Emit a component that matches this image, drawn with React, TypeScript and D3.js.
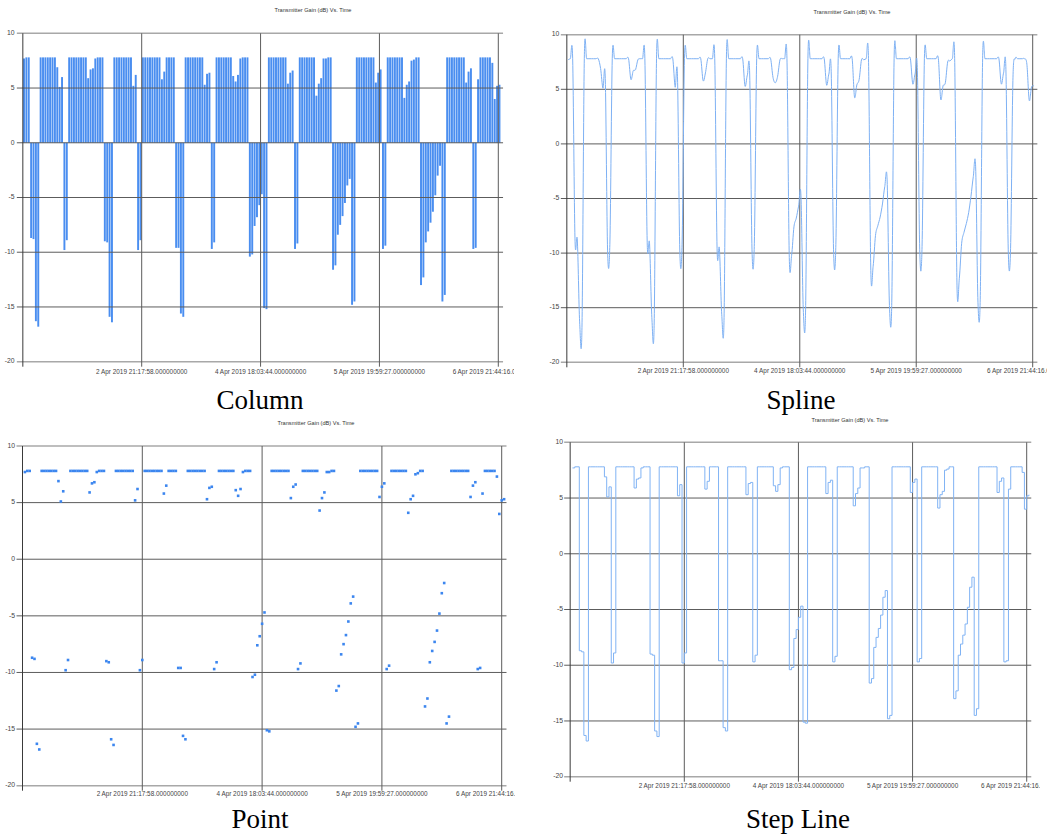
import React from "react";
import * as d3 from "d3";

// Transmitter gain (dB), one value per sample
const gain: number[] = [
  7.7, 7.8, 7.8,
  -8.7, -8.8, -16.3, -16.8,
  7.8, 7.8, 7.8, 7.8, 7.8, 7.8, 7.8, 6.9, 5.1, 6.0,
  -9.8, -8.9,
  7.8, 7.8, 7.8, 7.8, 7.8, 7.8, 7.8, 7.8, 5.9, 6.7, 6.8, 7.7, 7.8, 7.8, 7.8,
  -9.0, -9.1, -15.9, -16.4,
  7.8, 7.8, 7.8, 7.8, 7.8, 7.8, 7.8, 7.8, 5.2, 6.2,
  -9.8, -8.9,
  7.8, 7.8, 7.8, 7.8, 7.8, 7.8, 7.8, 7.8, 5.8, 6.5, 7.8, 7.8, 7.8, 7.8,
  -9.6, -9.6, -15.6, -15.9,
  7.8, 7.8, 7.8, 7.8, 7.8, 7.8, 7.8, 7.8, 5.3, 6.3, 6.4,
  -9.7, -9.1,
  7.8, 7.8, 7.8, 7.8, 7.8, 7.8, 7.8, 6.1, 5.6, 6.2, 7.7, 7.8, 7.8, 7.8,
  -10.4, -10.2, -7.6, -6.8, -5.7, -4.7, -15.1, -15.2,
  7.8, 7.8, 7.8, 7.8, 7.8, 7.8, 7.8, 7.8, 5.4, 6.4, 6.6,
  -9.7, -9.2,
  7.8, 7.8, 7.8, 7.8, 7.8, 7.8, 7.8, 4.3, 5.4, 5.9, 7.7, 7.7, 7.8, 7.8,
  -11.6, -11.2, -8.4, -7.5, -6.7, -5.5, -3.9, -3.3, -14.8, -14.5,
  7.8, 7.8, 7.8, 7.8, 7.8, 7.8, 7.8, 7.8, 5.5, 6.4, 6.7,
  -9.7, -9.4,
  7.8, 7.8, 7.8, 7.8, 7.8, 7.8, 7.8, 4.1, 5.3, 5.6, 7.5, 7.6, 7.8, 7.8,
  -13.0, -12.3, -9.1, -8.1, -7.3, -6.3, -4.8, -3.0, -2.1, -14.5, -13.9,
  7.8, 7.8, 7.8, 7.8, 7.8, 7.8, 7.8, 7.8, 5.5, 6.5, 6.8,
  -9.7, -9.6,
  5.8, 7.8, 7.8, 7.8, 7.8, 7.8, 7.3, 4.0, 5.2, 5.3,
];

const yTicks: number[] = [10, 5, 0, -5, -10, -15, -20];
const xLabelIndex: number[] = [50, 100, 150, 200];
const xLabels: string[] = [
  "2 Apr 2019 21:17:58.000000000",
  "4 Apr 2019 18:03:44.000000000",
  "5 Apr 2019 19:59:27.000000000",
  "6 Apr 2019 21:44:16.000000000",
];
const chartTitle = "Transmitter Gain (dB) Vs. Time";

type Kind = "column" | "spline" | "point" | "step";

interface PanelCfg {
  id: string;
  kind: Kind;
  caption: string;
  g1: number; // x of gridline at first label
  g4: number; // x of gridline at last label
  top: number;
  bottom: number;
  labelRight: number;
  titleX: number;
  titleY: number;
  xLabelY: number;
  clipLeft: number;
  clipRight: number;
  capX: number;
  capY: number;
}

const panels: PanelCfg[] = [
  { id: "p1", kind: "column", caption: "Column", g1: 141.7, g4: 498.3, top: 33.3, bottom: 361.7, labelRight: 14.5, titleX: 313, titleY: 11, xLabelY: 372, clipLeft: 0, clipRight: 514, capX: 260, capY: 409 },
  { id: "p2", kind: "spline", caption: "Spline", g1: 683.3, g4: 1032.7, top: 34.7, bottom: 362.3, labelRight: 559.3, titleX: 852, titleY: 12.7, xLabelY: 371.5, clipLeft: 530, clipRight: 1047, capX: 801, capY: 409 },
  { id: "p3", kind: "point", caption: "Point", g1: 142.3, g4: 501.7, top: 446, bottom: 785.7, labelRight: 15, titleX: 316, titleY: 424, xLabelY: 794.5, clipLeft: 0, clipRight: 515, capX: 260, capY: 827.5 },
  { id: "p4", kind: "step", caption: "Step Line", g1: 684.3, g4: 1026.7, top: 442.3, bottom: 776.7, labelRight: 563, titleX: 850, titleY: 421, xLabelY: 786, clipLeft: 530, clipRight: 1040, capX: 798, capY: 827.5 },
];

const SANS = "'Liberation Sans', Arial, sans-serif";
const SERIF = "'Liberation Serif', 'Times New Roman', serif";

function Panel({ cfg }: { cfg: PanelCfg }) {
  const N = gain.length;
  const p = (cfg.g4 - cfg.g1) / 150;
  const L = cfg.g1 - 50 * p;
  const R = L + 202 * p;
  const idx = d3.range(N);
  const x = d3.scaleBand<number>().domain(idx).range([L, L + N * p]).padding(0);
  const bw = x.bandwidth();
  const y = d3.scaleLinear().domain([-20, 10]).range([cfg.bottom, cfg.top]);

  const gridColor = "#5c5c5c";
  const grid = (
    <g>
      {yTicks.map((t, k) => (
        <line key={"h" + t} x1={L - 6} x2={R} y1={y(t)} y2={y(t)}
          stroke={k === 0 || k === yTicks.length - 1 ? "#a8a8a8" : gridColor}
          strokeWidth={k === 0 || k === yTicks.length - 1 ? 1.5 : 1} />
      ))}
      <line x1={L} x2={L} y1={cfg.top} y2={cfg.bottom + 5} stroke="#3a3a3a" strokeWidth={1} />
      {xLabelIndex.map((i) => (
        <line key={"v" + i} x1={x(i)!} x2={x(i)!} y1={cfg.top} y2={cfg.bottom + 5} stroke={gridColor} strokeWidth={1} />
      ))}
    </g>
  );

  let marks: React.ReactNode = null;
  if (cfg.kind === "column") {
    marks = (
      <g fill="#4a8ef0">
        {gain.map((v, i) => (
          <rect key={i} x={x(i)! + 0.2} width={bw - 0.45}
            y={Math.min(y(v), y(0))} height={Math.abs(y(v) - y(0))} />
        ))}
      </g>
    );
  } else if (cfg.kind === "spline") {
    const line = d3.line<number>().x((_, i) => x(i)! + bw / 2).y((v) => y(v)).curve(d3.curveCardinal.tension(0));
    marks = <path d={line(gain) || ""} fill="none" stroke="#7eb1f4" strokeWidth={1} />;
  } else if (cfg.kind === "point") {
    marks = (
      <g fill="#3c86ef">
        {gain.map((v, i) => (
          <rect key={i} x={x(i)! + bw - 1.3} y={y(v) - 1.3} width={2.6} height={2.6} />
        ))}
      </g>
    );
  } else {
    const line = d3.line<number>().x((_, i) => x(i)! + bw).y((v) => y(v)).curve(d3.curveStepAfter);
    marks = <path d={line(gain) || ""} fill="none" stroke="#80b3f4" strokeWidth={1} />;
  }

  return (
    <g>
      <defs>
        <clipPath id={"clip-" + cfg.id}>
          <rect x={cfg.clipLeft} y={0} width={cfg.clipRight - cfg.clipLeft} height={837} />
        </clipPath>
      </defs>
      <text x={cfg.titleX} y={cfg.titleY} textAnchor="middle" dominantBaseline="middle"
        fontFamily={SANS} fontSize={5.6} fill="#333">{chartTitle}</text>
      {cfg.kind === "column" ? (<>{marks}{grid}</>) : (<>{grid}{marks}</>)}
      {yTicks.map((t) => (
        <text key={"yl" + t} x={cfg.labelRight} y={y(t)} textAnchor="end" dominantBaseline="middle"
          fontFamily={SANS} fontSize={6.8} fill="#444">{t}</text>
      ))}
      <g clipPath={`url(#clip-${cfg.id})`}>
        {xLabelIndex.map((i, k) => (
          <text key={"xl" + i} x={x(i)!} y={cfg.xLabelY} textAnchor="middle" dominantBaseline="middle"
            fontFamily={SANS} fontSize={6.4} fill="#444">{xLabels[k]}</text>
        ))}
      </g>
      <text x={cfg.capX} y={cfg.capY} textAnchor="middle" fontFamily={SERIF} fontSize={27} fill="#000">
        {cfg.caption}
      </text>
    </g>
  );
}

export default function App() {
  return (
    <svg width={1059} height={837} viewBox="0 0 1059 837"
      style={{ position: "absolute", left: 0, top: 0, background: "#fff" }}>
      <rect x={0} y={0} width={1059} height={837} fill="#fff" />
      {panels.map((c) => (
        <Panel key={c.id} cfg={c} />
      ))}
    </svg>
  );
}
